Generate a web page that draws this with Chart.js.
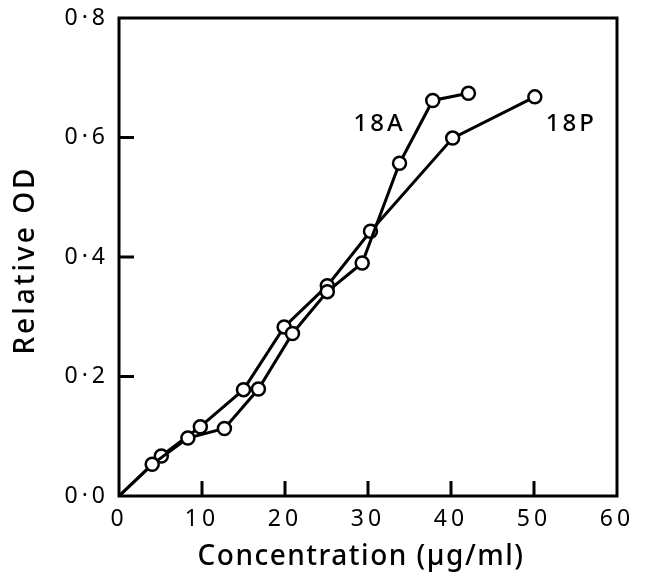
<!DOCTYPE html>
<html>
<head>
<meta charset="utf-8">
<script src="https://cdn.jsdelivr.net/npm/chart.js@4/dist/chart.umd.min.js"></script>
<style>
  html, body { margin: 0; padding: 0; background: #fff; }
  #wrap { width: 646px; height: 578px; }
</style>
</head>
<body>
<div id="wrap"><canvas id="ChartCanvas1" width="646" height="578"></canvas></div>
<script>
const concA = [0, 4.0, 8.3, 12.7, 16.8, 20.9, 25.1, 29.3, 33.8, 37.8, 42.1];
const odA   = [0, 0.053, 0.097, 0.113, 0.179, 0.272, 0.342, 0.390, 0.557, 0.662, 0.674];
const concP = [0, 5.1, 9.8, 15.0, 19.9, 25.1, 30.3, 40.2, 50.1];
const odP   = [0, 0.067, 0.116, 0.178, 0.283, 0.352, 0.443, 0.599, 0.668];

const xTicks = [0, 10, 20, 30, 40, 50, 60];
const yTicks = [0, 0.2, 0.4, 0.6, 0.8];
const yTickLabels = ['0·0', '0·2', '0·4', '0·6', '0·8'];

const xTitle = 'Concentration (µg/ml)';
const yTitle = 'Relative OD';

const seriesLabels = [
    { text: '18A', x: 31.4, y: 0.623 },
    { text: '18P', x: 54.5, y: 0.623 }
];

const FONT = '"Noto Sans", sans-serif';

Initialize();

function Initialize()
{
    const ctx = document.getElementById('ChartCanvas1').getContext('2d');

    function toPoints(xs, ys)
    {
        return xs.map((x, i) => ({ x: x, y: ys[i] }));
    }

    function radii(xs)
    {
        // no circle at the origin
        return xs.map(x => x === 0 ? 0 : 6.5);
    }

    const frame = {
        id: 'frame',
        beforeDraw(chart)
        {
            // the printed figure has widely spaced lettering
            // (set here: chart.js resizing the canvas resets the context)
            chart.ctx.letterSpacing = '4px';
        },
        afterDraw(chart)
        {
            const c = chart.ctx;
            const a = chart.chartArea;
            const xs = chart.scales.x;
            const ys = chart.scales.y;
            c.save();
            c.strokeStyle = '#000';
            c.lineWidth = 3;
            c.strokeRect(a.left, a.top, a.right - a.left, a.bottom - a.top);

            // inward ticks
            c.beginPath();
            xTicks.slice(1, -1).forEach(v => {
                const px = xs.getPixelForValue(v);
                c.moveTo(px, a.bottom);
                c.lineTo(px, a.bottom - 15);
            });
            yTicks.slice(1, -1).forEach(v => {
                const py = ys.getPixelForValue(v);
                c.moveTo(a.left, py);
                c.lineTo(a.left + 15, py);
            });
            c.stroke();

            c.fillStyle = '#000';
            c.textAlign = 'center';
            c.textBaseline = 'middle';

            // series labels
            c.letterSpacing = '3px';
            c.font = '500 24px ' + FONT;
            seriesLabels.forEach(l => {
                c.fillText(l.text, xs.getPixelForValue(l.x), ys.getPixelForValue(l.y));
            });

            // axis titles
            c.letterSpacing = '1.5px';
            c.font = '500 28px ' + FONT;
            c.fillText(xTitle, (a.left + a.right) / 2 - 7, 557);

            c.letterSpacing = '3px';
            c.translate(26, (a.top + a.bottom) / 2 + 3);
            c.rotate(-Math.PI / 2);
            c.fillText(yTitle, 0, 0);
            c.restore();
        }
    };

    const common = {
        showLine: true,
        borderColor: '#000',
        borderWidth: 3,
        pointBackgroundColor: '#fff',
        pointBorderColor: '#000',
        pointBorderWidth: 2.5,
        tension: 0
    };

    new Chart(ctx,
    {
        type: 'scatter',
        data: {
            datasets: [
                Object.assign({ label: '18A', data: toPoints(concA, odA), pointRadius: radii(concA) }, common),
                Object.assign({ label: '18P', data: toPoints(concP, odP), pointRadius: radii(concP) }, common)
            ]
        },
        options: {
            responsive: false,
            animation: false,
            layout: { padding: { top: 18, right: 29, left: 0, bottom: 0 } },
            plugins: {
                legend: { display: false },
                tooltip: { enabled: false }
            },
            scales: {
                x: {
                    type: 'linear',
                    min: 0,
                    max: 60,
                    afterBuildTicks: s => { s.ticks = xTicks.map(v => ({ value: v })); },
                    afterFit: s => { s.height = 82; },
                    grid: { display: false },
                    border: { display: false },
                    ticks: {
                        color: '#000',
                        font: { family: FONT, size: 23 },
                        padding: 2,
                        maxRotation: 0
                    }
                },
                y: {
                    type: 'linear',
                    min: 0,
                    max: 0.8,
                    afterBuildTicks: s => { s.ticks = yTicks.map(v => ({ value: v })); },
                    afterFit: s => { s.width = 119; },
                    grid: { display: false },
                    border: { display: false },
                    ticks: {
                        color: '#000',
                        font: { family: FONT, size: 23 },
                        padding: 2,
                        callback: (v, i) => yTickLabels[i]
                    }
                }
            }
        },
        plugins: [frame]
    });
}
</script>
</body>
</html>
